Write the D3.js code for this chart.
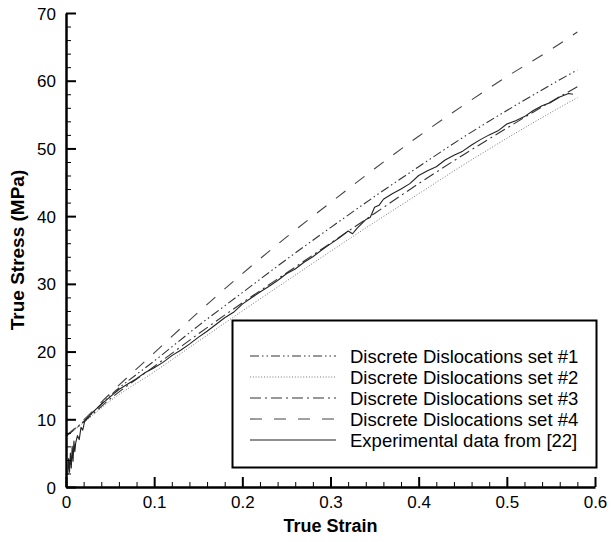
<!DOCTYPE html>
<html>
<head>
<meta charset="utf-8">
<script src="https://cdn.jsdelivr.net/npm/d3@7"></script>
<style>
  html, body { margin: 0; padding: 0; background: #fff; }
  svg { display: block; }
  text { font-family: "Liberation Sans", Arial, Helvetica, sans-serif; fill: #000; }
</style>
</head>
<body>
<svg id="chart" width="612" height="542"></svg>
<script>
// ---- data ----
const modelStrain = [0, 0.02, 0.05, 0.1, 0.15, 0.2, 0.25, 0.3, 0.35, 0.4, 0.45, 0.5, 0.55, 0.58];
const set1Stress = [7.5, 9.7, 13.5, 18.6, 23.8, 28.7, 33.6, 38.3, 42.9, 47.3, 51.6, 55.6, 59.4, 61.6];
const set2Stress = [7.5, 9.5, 12.7, 17.0, 21.5, 26.0, 30.4, 34.8, 39.1, 43.3, 47.5, 51.5, 55.3, 57.5];
const set3Stress = [7.5, 9.6, 13.0, 17.8, 22.6, 27.2, 31.6, 36.0, 40.4, 44.8, 49.0, 53.0, 56.9, 59.1];
const set4Stress = [7.5, 9.9, 13.8, 19.8, 25.8, 31.5, 36.9, 42.0, 47.0, 51.8, 56.3, 60.6, 64.6, 67.2];

const expStrain = [0.002, 0.003, 0.004, 0.005, 0.006, 0.007, 0.008, 0.009, 0.010, 0.011, 0.013, 0.015, 0.017, 0.019, 0.021,
  0.025, 0.03, 0.035, 0.04, 0.05, 0.06, 0.07, 0.08, 0.09, 0.1, 0.11, 0.12, 0.13, 0.14, 0.15, 0.16, 0.17, 0.18, 0.19,
  0.2, 0.21, 0.22, 0.23, 0.24, 0.25, 0.26, 0.27, 0.28, 0.29, 0.3, 0.31, 0.32, 0.325, 0.33, 0.34, 0.345, 0.35, 0.355,
  0.36, 0.37, 0.38, 0.39, 0.4, 0.41, 0.42, 0.43, 0.44, 0.45, 0.46, 0.47, 0.48, 0.49, 0.5, 0.51, 0.52, 0.53, 0.54,
  0.55, 0.56, 0.57, 0.575];
const expStress = [1.8, 4.2, 2.2, 5.0, 2.8, 6.0, 3.8, 6.8, 5.2, 6.5, 7.6, 7.0, 8.8, 8.4, 9.6,
  10.3, 11.0, 11.6, 12.2, 13.3, 14.4, 15.2, 16.0, 16.9, 17.6, 18.4, 19.4, 20.2, 21.1, 22.1, 23.0, 24.0, 25.0, 25.8,
  27.0, 27.9, 28.8, 29.6, 30.5, 31.5, 32.2, 33.2, 34.0, 35.0, 35.9, 36.8, 37.8, 37.4, 38.2, 39.5, 39.8, 41.3, 41.6,
  42.5, 43.3, 44.0, 44.8, 46.0, 46.7, 47.3, 48.3, 49.0, 49.6, 50.5, 51.3, 52.0, 52.6, 53.6, 54.1, 54.7, 55.6, 56.3,
  56.8, 57.6, 58.1, 58.0];

const legendLabels = ["Discrete Dislocations set #1", "Discrete Dislocations set #2",
  "Discrete Dislocations set #3", "Discrete Dislocations set #4", "Experimental data from [22]"];
const xTicks = [0, 0.1, 0.2, 0.3, 0.4, 0.5, 0.6];
const yTicks = [0, 10, 20, 30, 40, 50, 60, 70];

// ---- drawing ----
const svg = d3.select("#chart");
const x = d3.scaleLinear().domain([0, 0.6]).range([66, 595]);
const y = d3.scaleLinear().domain([0, 70]).range([487, 13]);

const styles = [
  { dash: "9,3,1.5,3,1.5,3", color: "#333", width: 1.1 },
  { dash: "1,1.8", color: "#777", width: 1 },
  { dash: "11,4,2,4", color: "#333", width: 1.1 },
  { dash: "12,12", color: "#444", width: 1.1 },
  { dash: null, color: "#222", width: 1.1 }
];

const modelSeries = [set1Stress, set2Stress, set3Stress, set4Stress];
const line = d3.line().x(d => x(d[0])).y(d => y(d[1])).curve(d3.curveMonotoneX);
const expLine = d3.line().x(d => x(d[0])).y(d => y(d[1]));

const plot = svg.append("g");
modelSeries.forEach((s, i) => {
  plot.append("path")
    .datum(modelStrain.map((v, j) => [v, s[j]]))
    .attr("d", line)
    .attr("fill", "none")
    .attr("stroke", styles[i].color)
    .attr("stroke-width", styles[i].width)
    .attr("stroke-dasharray", styles[i].dash);
});
plot.append("path")
  .datum(expStrain.map((v, j) => [v, expStress[j]]))
  .attr("d", expLine)
  .attr("fill", "none")
  .attr("stroke", styles[4].color)
  .attr("stroke-width", styles[4].width)
  .attr("stroke-linejoin", "round");

// axes: minor ticks
const xMinor = d3.range(0, 0.6001, 0.02).filter(v => Math.abs(v * 10 - Math.round(v * 10)) > 1e-6);
const yMinor = d3.range(0, 70.001, 2).filter(v => v % 10 !== 0);

const xAxisMinor = svg.append("g").attr("transform", `translate(0,${y(0)})`)
  .call(d3.axisBottom(x).tickValues(xMinor).tickSize(-5).tickFormat(""));
const yAxisMinor = svg.append("g").attr("transform", `translate(${x(0)},0)`)
  .call(d3.axisLeft(y).tickValues(yMinor).tickSize(-5).tickFormat(""));
[xAxisMinor, yAxisMinor].forEach(g => {
  g.select(".domain").remove();
  g.selectAll(".tick line").attr("stroke", "#000").attr("stroke-width", 1);
});

const xAxis = svg.append("g").attr("transform", `translate(0,${y(0)})`)
  .call(d3.axisBottom(x).tickValues(xTicks).tickSize(-10).tickSizeOuter(0).tickPadding(7)
    .tickFormat(d => d === 0 ? "0" : d3.format(".1f")(d)));
const yAxis = svg.append("g").attr("transform", `translate(${x(0)},0)`)
  .call(d3.axisLeft(y).tickValues(yTicks).tickSize(-10).tickSizeOuter(0).tickPadding(10)
    .tickFormat(d3.format("d")));
[xAxis, yAxis].forEach(g => {
  g.select(".domain").attr("stroke", "#000").attr("stroke-width", 2.5);
  g.selectAll(".tick line").attr("stroke", "#000").attr("stroke-width", 2);
  g.selectAll(".tick text").style("font-size", "17px").attr("fill", "#000");
});
xAxis.selectAll(".tick text").attr("dy", "0.85em");
yAxis.selectAll(".tick text").attr("dy", "0.36em");

// axis titles
svg.append("text")
  .attr("x", (x(0) + x(0.6)) / 2).attr("y", 532)
  .attr("text-anchor", "middle")
  .style("font-size", "18px").style("font-weight", "bold")
  .text("True Strain");
svg.append("text")
  .attr("transform", `translate(24,${(y(0) + y(70)) / 2}) rotate(-90)`)
  .attr("text-anchor", "middle")
  .style("font-size", "19px").style("font-weight", "bold")
  .text("True Stress (MPa)");

// legend
const lg = svg.append("g");
lg.append("rect")
  .attr("x", 232.5).attr("y", 320.5).attr("width", 364).attr("height", 147)
  .attr("fill", "#fff").attr("stroke", "#000").attr("stroke-width", 2);
legendLabels.forEach((lab, i) => {
  const yy = 356 + i * 21;
  lg.append("line")
    .attr("x1", 250).attr("x2", 336).attr("y1", yy).attr("y2", yy)
    .attr("stroke", styles[i].color).attr("stroke-width", styles[i].width)
    .attr("stroke-dasharray", styles[i].dash);
  lg.append("text")
    .attr("x", 350).attr("y", yy + 6.5)
    .style("font-size", "18.5px")
    .text(lab);
});
</script>
</body>
</html>
